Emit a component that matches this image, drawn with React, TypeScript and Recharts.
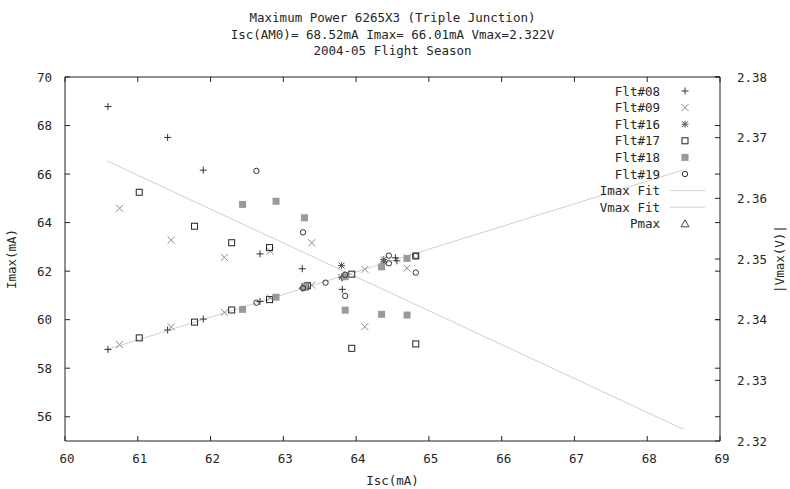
import React from 'react';
import { ScatterChart, Scatter, XAxis, YAxis, ReferenceArea, Legend } from 'recharts';

// ---------- data ----------
const xTicks = [60, 61, 62, 63, 64, 65, 66, 67, 68, 69];
const yTicks = [56, 58, 60, 62, 64, 66, 68, 70];
const y2Ticks = [2.32, 2.33, 2.34, 2.35, 2.36, 2.37, 2.38];

const titleLines = [
  'Maximum Power 6265X3 (Triple Junction)',
  'Isc(AM0)= 68.52mA Imax= 66.01mA Vmax=2.322V',
  '2004-05 Flight Season',
];

const flt08Imax = [
  { isc: 60.59, imax: 68.78 }, { isc: 61.41, imax: 67.51 }, { isc: 61.9, imax: 66.16 },
  { isc: 62.68, imax: 62.71 }, { isc: 63.26, imax: 62.1 }, { isc: 63.81, imax: 61.25 },
  { isc: 64.54, imax: 62.55 },
];
const flt08Vmax = [
  { isc: 60.59, vmax: 2.3351 }, { isc: 61.41, vmax: 2.3383 }, { isc: 61.9, vmax: 2.3401 },
  { isc: 62.68, vmax: 2.343 }, { isc: 63.26, vmax: 2.3452 }, { isc: 63.81, vmax: 2.3469 },
  { isc: 64.56, vmax: 2.3497 },
];
const flt09Imax = [
  { isc: 60.75, imax: 64.59 }, { isc: 61.46, imax: 63.28 }, { isc: 62.19, imax: 62.57 },
  { isc: 62.82, imax: 62.83 }, { isc: 63.39, imax: 63.17 }, { isc: 64.12, imax: 59.71 },
  { isc: 64.7, imax: 62.12 },
];
const flt09Vmax = [
  { isc: 60.75, vmax: 2.3359 }, { isc: 61.46, vmax: 2.3388 }, { isc: 62.19, vmax: 2.3412 },
  { isc: 62.82, vmax: 2.3436 }, { isc: 63.39, vmax: 2.3457 }, { isc: 64.12, vmax: 2.3483 },
  { isc: 64.7, vmax: 2.3502 },
];
const flt16Imax = [{ isc: 63.8, imax: 62.23 }, { isc: 64.38, imax: 62.48 }];
const flt16Vmax = [{ isc: 63.8, vmax: 2.347 }, { isc: 64.38, vmax: 2.3495 }];
const flt17Imax = [
  { isc: 61.02, imax: 65.25 }, { isc: 61.78, imax: 63.85 }, { isc: 62.29, imax: 63.17 },
  { isc: 62.81, imax: 62.97 }, { isc: 63.33, imax: 61.4 }, { isc: 63.94, imax: 58.82 },
  { isc: 64.82, imax: 59.0 },
];
const flt17Vmax = [
  { isc: 61.02, vmax: 2.337 }, { isc: 61.78, vmax: 2.3396 }, { isc: 62.29, vmax: 2.3416 },
  { isc: 62.81, vmax: 2.3433 }, { isc: 63.3, vmax: 2.3454 }, { isc: 63.94, vmax: 2.3475 },
  { isc: 64.82, vmax: 2.3505 },
];
const flt18Imax = [
  { isc: 62.44, imax: 64.75 }, { isc: 62.9, imax: 64.88 }, { isc: 63.29, imax: 64.2 },
  { isc: 63.85, imax: 60.39 }, { isc: 64.35, imax: 60.22 }, { isc: 64.7, imax: 60.19 },
];
const flt18Vmax = [
  { isc: 62.44, vmax: 2.3417 }, { isc: 62.9, vmax: 2.3437 }, { isc: 63.29, vmax: 2.3455 },
  { isc: 63.85, vmax: 2.3471 }, { isc: 64.35, vmax: 2.3487 }, { isc: 64.7, vmax: 2.3501 },
];
const flt19Imax = [
  { isc: 62.63, imax: 66.13 }, { isc: 63.27, imax: 63.6 }, { isc: 63.85, imax: 60.98 },
  { isc: 64.45, imax: 62.64 }, { isc: 64.82, imax: 61.94 },
];
const flt19Vmax = [
  { isc: 62.63, vmax: 2.3428 }, { isc: 63.27, vmax: 2.3452 }, { isc: 63.58, vmax: 2.3461 },
  { isc: 63.85, vmax: 2.3474 }, { isc: 64.45, vmax: 2.3493 }, { isc: 64.82, vmax: 2.3505 },
];
const imaxFit = [{ isc: 60.58, imax: 66.54 }, { isc: 68.5, imax: 55.48 }];
const vmaxFit = [{ isc: 60.58, vmax: 2.3351 }, { isc: 68.5, vmax: 2.3647 }];
const pmax: { isc: number; imax: number }[] = [];

// ---------- layout / style ----------
const W = 790;
const H = 489;
const PL = 65;
const PR = 720;
const PT = 77;
const PB = 441;
const FONT = '"DejaVu Sans Mono", monospace';
const TXT = '#262626';
const FS = 12.5;
const FIT = '#cfcfcf';

type Kind = 'plus' | 'cross' | 'star' | 'square' | 'filled' | 'circle' | 'tri' | 'line' | 'none';

const drawMarker = (kind: Kind, cx: number, cy: number) => {
  switch (kind) {
    case 'plus':
      return (
        <g stroke="#333" strokeWidth={1}>
          <line x1={cx - 3.5} y1={cy} x2={cx + 3.5} y2={cy} />
          <line x1={cx} y1={cy - 3.5} x2={cx} y2={cy + 3.5} />
        </g>
      );
    case 'cross':
      return (
        <g stroke="#8c8c8c" strokeWidth={1}>
          <line x1={cx - 3.5} y1={cy - 3.5} x2={cx + 3.5} y2={cy + 3.5} />
          <line x1={cx - 3.5} y1={cy + 3.5} x2={cx + 3.5} y2={cy - 3.5} />
        </g>
      );
    case 'star':
      return (
        <g stroke="#555" strokeWidth={1}>
          <line x1={cx - 3.5} y1={cy} x2={cx + 3.5} y2={cy} />
          <line x1={cx} y1={cy - 3.5} x2={cx} y2={cy + 3.5} />
          <line x1={cx - 3} y1={cy - 3} x2={cx + 3} y2={cy + 3} />
          <line x1={cx - 3} y1={cy + 3} x2={cx + 3} y2={cy - 3} />
        </g>
      );
    case 'square':
      return <rect x={cx - 3} y={cy - 3} width={6} height={6} fill="none" stroke="#222" strokeWidth={1} />;
    case 'filled':
      return <rect x={cx - 3.5} y={cy - 3.5} width={7} height={7} fill="#9a9a9a" stroke="none" />;
    case 'circle':
      return <circle cx={cx} cy={cy} r={2.7} fill="none" stroke="#333" strokeWidth={1} />;
    case 'tri':
      return (
        <path
          d={`M${cx - 4},${cy + 3} L${cx + 4},${cy + 3} L${cx},${cy - 4} Z`}
          fill="none"
          stroke="#444"
          strokeWidth={1}
        />
      );
    default:
      return <g />;
  }
};

const shapeOf = (kind: Kind) => (p: any) => drawMarker(kind, p.cx, p.cy);

const legendItems: { name: string; kind: Kind }[] = [
  { name: 'Flt#08', kind: 'plus' },
  { name: 'Flt#09', kind: 'cross' },
  { name: 'Flt#16', kind: 'star' },
  { name: 'Flt#17', kind: 'square' },
  { name: 'Flt#18', kind: 'filled' },
  { name: 'Flt#19', kind: 'circle' },
  { name: 'Imax Fit', kind: 'line' },
  { name: 'Vmax Fit', kind: 'line' },
  { name: 'Pmax', kind: 'tri' },
];

const LegendBox = () => (
  <svg width={170} height={160} style={{ display: 'block' }}>
    {legendItems.map((it, i) => {
      const cy = 11 + i * 16.6;
      return (
        <g key={it.name}>
          <text x={100} y={cy + 4.5} textAnchor="end" fontFamily={FONT} fontSize={FS} fill={TXT}>
            {it.name}
          </text>
          {it.kind === 'line' ? (
            <line x1={110} y1={cy} x2={145} y2={cy} stroke={FIT} strokeWidth={1} />
          ) : (
            drawMarker(it.kind, 125, cy)
          )}
        </g>
      );
    })}
  </svg>
);

const XTick = (p: any) => {
  const x = p.x;
  return (
    <g>
      <line x1={x} y1={PB} x2={x} y2={PB - 5} stroke="#222" />
      <line x1={x} y1={PT} x2={x} y2={PT + 5} stroke="#222" />
      <text x={x + 2} y={463} textAnchor="middle" fontFamily={FONT} fontSize={FS} fill={TXT}>
        {p.payload.value}
      </text>
    </g>
  );
};

const YTick = (p: any) => {
  const y = p.y;
  return (
    <g>
      <line x1={PL} y1={y} x2={PL + 5} y2={y} stroke="#222" />
      <line x1={PR - 5} y1={y} x2={PR} y2={y} stroke="#222" />
      <text x={52} y={y + 4.5} textAnchor="end" fontFamily={FONT} fontSize={FS} fill={TXT}>
        {p.payload.value}
      </text>
    </g>
  );
};

const Y2Tick = (p: any) => {
  const y = p.y;
  return (
    <g>
      <line x1={PR - 5} y1={y} x2={PR} y2={y} stroke="#222" />
      <text x={737} y={y + 4.5} textAnchor="start" fontFamily={FONT} fontSize={FS} fill={TXT}>
        {Number(p.payload.value).toFixed(2)}
      </text>
    </g>
  );
};

export default function App() {
  return (
    <div style={{ position: 'absolute', left: 0, top: 0, width: W, height: H, background: '#fff' }}>
      <ScatterChart width={W} height={H} margin={{ top: PT, right: 0, bottom: 0, left: 0 }}>
        <XAxis
          type="number"
          dataKey="isc"
          domain={[60, 69]}
          ticks={xTicks}
          interval={0}
          height={H - PB}
          axisLine={false}
          tickLine={false}
          tickSize={0}
          tick={XTick}
          allowDataOverflow
          label={{
            value: 'Isc(mA)',
            content: () => (
              <text x={(PL + PR) / 2} y={485} textAnchor="middle" fontFamily={FONT} fontSize={FS} fill={TXT}>
                Isc(mA)
              </text>
            ),
          }}
        />
        <YAxis
          yAxisId="left"
          type="number"
          dataKey="imax"
          domain={[55, 70]}
          ticks={yTicks}
          interval={0}
          width={PL}
          axisLine={false}
          tickLine={false}
          tickSize={0}
          tick={YTick}
          allowDataOverflow
          label={{
            value: 'Imax(mA)',
            content: () => (
              <text
                x={16}
                y={(PT + PB) / 2}
                transform={`rotate(-90 16 ${(PT + PB) / 2})`}
                textAnchor="middle"
                fontFamily={FONT}
                fontSize={FS}
                fill={TXT}
              >
                Imax(mA)
              </text>
            ),
          }}
        />
        <YAxis
          yAxisId="right"
          orientation="right"
          type="number"
          dataKey="vmax"
          domain={[2.32, 2.38]}
          ticks={y2Ticks}
          interval={0}
          width={W - PR}
          axisLine={false}
          tickLine={false}
          tickSize={0}
          tick={Y2Tick}
          allowDataOverflow
          label={{
            value: '|Vmax(V)|',
            content: () => (
              <text
                x={784}
                y={(PT + PB) / 2}
                transform={`rotate(-90 784 ${(PT + PB) / 2})`}
                textAnchor="middle"
                fontFamily={FONT}
                fontSize={FS}
                fill={TXT}
              >
                |Vmax(V)|
              </text>
            ),
          }}
        />
        <ReferenceArea
          yAxisId="left"
          x1={60}
          x2={69}
          y1={55}
          y2={70}
          fill="none"
          fillOpacity={0}
          stroke="#222"
          strokeWidth={1}
        />
        <Scatter name="Imax Fit" yAxisId="left" data={imaxFit} line={{ stroke: FIT, strokeWidth: 1 }} shape={shapeOf('none')} isAnimationActive={false} legendType="none" />
        <Scatter name="Vmax Fit" yAxisId="right" data={vmaxFit} line={{ stroke: FIT, strokeWidth: 1 }} shape={shapeOf('none')} isAnimationActive={false} legendType="none" />

        <Scatter name="Flt#08" yAxisId="left" data={flt08Imax} shape={shapeOf('plus')} isAnimationActive={false} />
        <Scatter name="Flt#08 V" yAxisId="right" data={flt08Vmax} shape={shapeOf('plus')} isAnimationActive={false} legendType="none" />
        <Scatter name="Flt#09" yAxisId="left" data={flt09Imax} shape={shapeOf('cross')} isAnimationActive={false} />
        <Scatter name="Flt#09 V" yAxisId="right" data={flt09Vmax} shape={shapeOf('cross')} isAnimationActive={false} legendType="none" />
        <Scatter name="Flt#16" yAxisId="left" data={flt16Imax} shape={shapeOf('star')} isAnimationActive={false} />
        <Scatter name="Flt#16 V" yAxisId="right" data={flt16Vmax} shape={shapeOf('star')} isAnimationActive={false} legendType="none" />
        <Scatter name="Flt#17" yAxisId="left" data={flt17Imax} shape={shapeOf('square')} isAnimationActive={false} />
        <Scatter name="Flt#17 V" yAxisId="right" data={flt17Vmax} shape={shapeOf('square')} isAnimationActive={false} legendType="none" />
        <Scatter name="Flt#18" yAxisId="left" data={flt18Imax} shape={shapeOf('filled')} isAnimationActive={false} />
        <Scatter name="Flt#18 V" yAxisId="right" data={flt18Vmax} shape={shapeOf('filled')} isAnimationActive={false} legendType="none" />
        <Scatter name="Flt#19" yAxisId="left" data={flt19Imax} shape={shapeOf('circle')} isAnimationActive={false} />
        <Scatter name="Flt#19 V" yAxisId="right" data={flt19Vmax} shape={shapeOf('circle')} isAnimationActive={false} legendType="none" />
        <Scatter name="Pmax" yAxisId="left" data={pmax} shape={shapeOf('tri')} isAnimationActive={false} />

        <Legend
          layout="vertical"
          align="center"
          verticalAlign="middle"
          content={() => <LegendBox />}
          wrapperStyle={{ top: 80, left: 560, width: 170, height: 160 }}
        />
      </ScatterChart>
      <svg
        width={W}
        height={70}
        style={{ position: 'absolute', left: 0, top: 0, pointerEvents: 'none' }}
      >
        {titleLines.map((t, i) => (
          <text
            key={i}
            x={(PL + PR) / 2}
            y={22 + i * 16.5}
            textAnchor="middle"
            fontFamily={FONT}
            fontSize={FS}
            fill={TXT}
          >
            {t}
          </text>
        ))}
      </svg>
    </div>
  );
}
